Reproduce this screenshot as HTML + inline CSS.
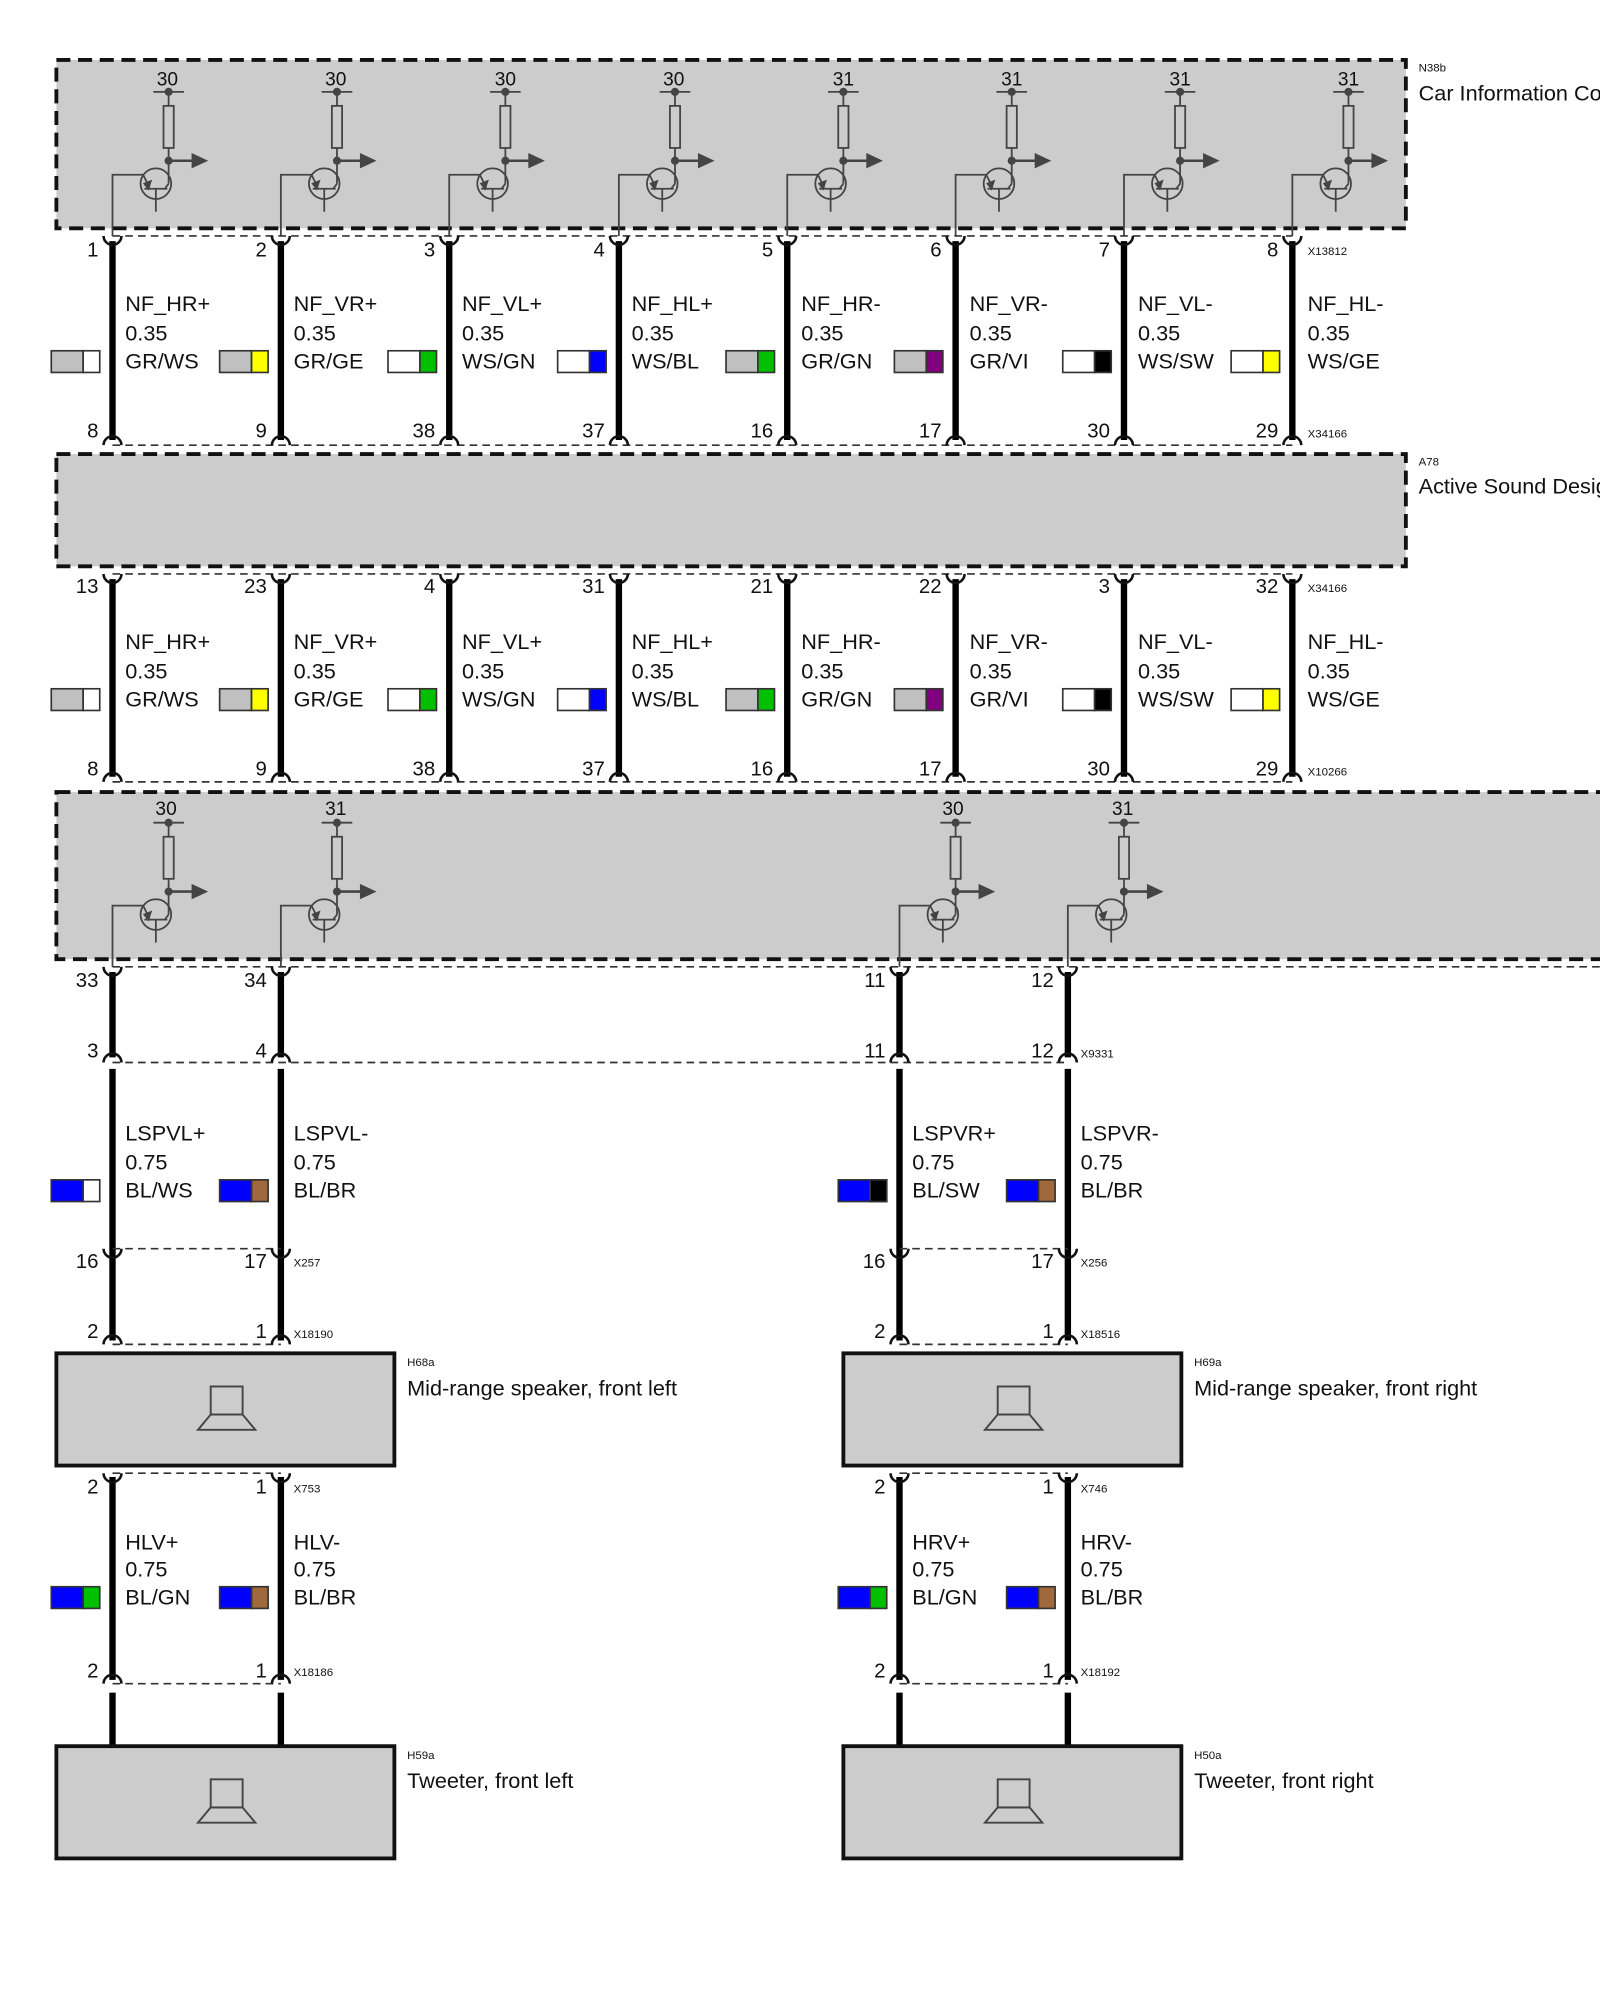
<!DOCTYPE html>
<html><head><meta charset="utf-8"><style>
html,body{margin:0;padding:0;background:#fff;}
svg{display:block;}
text{font-family:"Liberation Sans",sans-serif;fill:#111;}
.l{font-size:17px;}
.p{font-size:16px;text-anchor:end;}
.s{font-size:9px;}
.t{font-size:15px;text-anchor:middle;}
.big{font-size:17px;}
</style></head><body>
<svg width="1600" height="2000" viewBox="0 0 1254 1568" xmlns="http://www.w3.org/2000/svg">
<defs>
<g id="tr" fill="none" stroke="#444" stroke-width="1.4">
  <line x1="32" y1="0" x2="56" y2="0"/>
  <circle cx="44" cy="0" r="2.5" fill="#444"/>
  <line x1="44" y1="0" x2="44" y2="11"/>
  <rect x="40" y="11" width="8" height="33"/>
  <line x1="44" y1="44" x2="44" y2="72"/>
  <circle cx="44" cy="54" r="2.5" fill="#444"/>
  <line x1="44" y1="54" x2="64" y2="54" stroke-width="2"/>
  <polygon points="62,48 75,54 62,60" fill="#444" stroke="none"/>
  <circle cx="34" cy="72" r="12"/>
  <line x1="44" y1="72" x2="41" y2="76"/>
  <line x1="25" y1="76" x2="43" y2="76"/>
  <line x1="34" y1="76" x2="34" y2="94"/>
  <line x1="24" y1="65" x2="29" y2="75"/>
  <polygon points="28,76 30,70 25,72" fill="#444"/>
  <polyline points="0,113 0,65 24,65"/>
</g>
<path id="cu" d="M-7,0 A7,7 0 0 0 7,0" fill="none" stroke="#111" stroke-width="2"/>
<path id="cn" d="M-7,0 A7,7 0 0 1 7,0" fill="none" stroke="#111" stroke-width="2"/>
<g id="spk" fill="none" stroke="#444" stroke-width="1.5">
  <rect x="0" y="0" width="25" height="22"/>
  <polygon points="0,22 25,22 35,34 -10,34"/>
</g>
</defs>

<!-- Box 1 -->
<rect x="44" y="47" width="1058" height="132" fill="#cccccc" stroke="#111" stroke-width="3" stroke-dasharray="11,6"/>
<g>
<use href="#tr" x="88" y="72"/><use href="#tr" x="220" y="72"/><use href="#tr" x="352" y="72"/><use href="#tr" x="485" y="72"/>
<use href="#tr" x="617" y="72"/><use href="#tr" x="749" y="72"/><use href="#tr" x="881" y="72"/><use href="#tr" x="1013" y="72"/>
</g>
<text class="t" x="131" y="67">30</text><text class="t" x="263" y="67">30</text><text class="t" x="396" y="67">30</text><text class="t" x="528" y="67">30</text>
<text class="t" x="661" y="67">31</text><text class="t" x="793" y="67">31</text><text class="t" x="925" y="67">31</text><text class="t" x="1057" y="67">31</text>
<text class="s" x="1112" y="56">N38b</text><text class="big" x="1112" y="79">Car Information Computer</text>

<!-- Wire set 1 -->
<g transform="translate(0,185)">
<line x1="88" y1="0" x2="1013" y2="0" stroke="#333" stroke-width="1.3" stroke-dasharray="6,4"/>
<line x1="88" y1="164" x2="1013" y2="164" stroke="#333" stroke-width="1.3" stroke-dasharray="6,4"/>
<g stroke="#000" stroke-width="5">
<line x1="88" y1="4" x2="88" y2="160"/><line x1="220" y1="4" x2="220" y2="160"/><line x1="352" y1="4" x2="352" y2="160"/><line x1="485" y1="4" x2="485" y2="160"/>
<line x1="617" y1="4" x2="617" y2="160"/><line x1="749" y1="4" x2="749" y2="160"/><line x1="881" y1="4" x2="881" y2="160"/><line x1="1013" y1="4" x2="1013" y2="160"/>
</g>
<use href="#cu" x="88"/><use href="#cu" x="220"/><use href="#cu" x="352"/><use href="#cu" x="485"/><use href="#cu" x="617"/><use href="#cu" x="749"/><use href="#cu" x="881"/><use href="#cu" x="1013"/>
<use href="#cn" x="88" y="164"/><use href="#cn" x="220" y="164"/><use href="#cn" x="352" y="164"/><use href="#cn" x="485" y="164"/><use href="#cn" x="617" y="164"/><use href="#cn" x="749" y="164"/><use href="#cn" x="881" y="164"/><use href="#cn" x="1013" y="164"/>
<text class="p" x="77" y="16">1</text><text class="p" x="209" y="16">2</text><text class="p" x="341" y="16">3</text><text class="p" x="474" y="16">4</text><text class="p" x="606" y="16">5</text><text class="p" x="738" y="16">6</text><text class="p" x="870" y="16">7</text><text class="p" x="1002" y="16">8</text>
<text class="s" x="1025" y="15">X13812</text>
<text class="p" x="77" y="158">8</text><text class="p" x="209" y="158">9</text><text class="p" x="341" y="158">38</text><text class="p" x="474" y="158">37</text><text class="p" x="606" y="158">16</text><text class="p" x="738" y="158">17</text><text class="p" x="870" y="158">30</text><text class="p" x="1002" y="158">29</text>
<text class="s" x="1025" y="158">X34166</text>
<g class="l">
<text class="l" x="98" y="59">NF_HR+</text><text class="l" x="98" y="82">0.35</text><text class="l" x="98" y="104">GR/WS</text>
<text class="l" x="230" y="59">NF_VR+</text><text class="l" x="230" y="82">0.35</text><text class="l" x="230" y="104">GR/GE</text>
<text class="l" x="362" y="59">NF_VL+</text><text class="l" x="362" y="82">0.35</text><text class="l" x="362" y="104">WS/GN</text>
<text class="l" x="495" y="59">NF_HL+</text><text class="l" x="495" y="82">0.35</text><text class="l" x="495" y="104">WS/BL</text>
<text class="l" x="628" y="59">NF_HR-</text><text class="l" x="628" y="82">0.35</text><text class="l" x="628" y="104">GR/GN</text>
<text class="l" x="760" y="59">NF_VR-</text><text class="l" x="760" y="82">0.35</text><text class="l" x="760" y="104">GR/VI</text>
<text class="l" x="892" y="59">NF_VL-</text><text class="l" x="892" y="82">0.35</text><text class="l" x="892" y="104">WS/SW</text>
<text class="l" x="1025" y="59">NF_HL-</text><text class="l" x="1025" y="82">0.35</text><text class="l" x="1025" y="104">WS/GE</text>
</g>
<g stroke="#333" stroke-width="1.3">
<rect x="40" y="90" width="25" height="17" fill="#c0c0c0"/><rect x="65" y="90" width="13" height="17" fill="#fff"/>
<rect x="172" y="90" width="25" height="17" fill="#c0c0c0"/><rect x="197" y="90" width="13" height="17" fill="#ffff00"/>
<rect x="304" y="90" width="25" height="17" fill="#fff"/><rect x="329" y="90" width="13" height="17" fill="#00c000"/>
<rect x="437" y="90" width="25" height="17" fill="#fff"/><rect x="462" y="90" width="13" height="17" fill="#0000ff"/>
<rect x="569" y="90" width="25" height="17" fill="#c0c0c0"/><rect x="594" y="90" width="13" height="17" fill="#00c000"/>
<rect x="701" y="90" width="25" height="17" fill="#c0c0c0"/><rect x="726" y="90" width="13" height="17" fill="#800080"/>
<rect x="833" y="90" width="25" height="17" fill="#fff"/><rect x="858" y="90" width="13" height="17" fill="#000"/>
<rect x="965" y="90" width="25" height="17" fill="#fff"/><rect x="990" y="90" width="13" height="17" fill="#ffff00"/>
</g>
</g>

<!-- Box 2 -->
<rect x="44" y="356" width="1058" height="88" fill="#cccccc" stroke="#111" stroke-width="3" stroke-dasharray="11,6"/>
<text class="s" x="1112" y="365">A78</text><text class="big" x="1112" y="387">Active Sound Design</text>

<!-- Wire set 2 -->
<g transform="translate(0,450)">
<line x1="88" y1="0" x2="1013" y2="0" stroke="#333" stroke-width="1.3" stroke-dasharray="6,4"/>
<line x1="88" y1="163" x2="1013" y2="163" stroke="#333" stroke-width="1.3" stroke-dasharray="6,4"/>
<g stroke="#000" stroke-width="5">
<line x1="88" y1="4" x2="88" y2="159"/><line x1="220" y1="4" x2="220" y2="159"/><line x1="352" y1="4" x2="352" y2="159"/><line x1="485" y1="4" x2="485" y2="159"/>
<line x1="617" y1="4" x2="617" y2="159"/><line x1="749" y1="4" x2="749" y2="159"/><line x1="881" y1="4" x2="881" y2="159"/><line x1="1013" y1="4" x2="1013" y2="159"/>
</g>
<use href="#cu" x="88"/><use href="#cu" x="220"/><use href="#cu" x="352"/><use href="#cu" x="485"/><use href="#cu" x="617"/><use href="#cu" x="749"/><use href="#cu" x="881"/><use href="#cu" x="1013"/>
<use href="#cn" x="88" y="163"/><use href="#cn" x="220" y="163"/><use href="#cn" x="352" y="163"/><use href="#cn" x="485" y="163"/><use href="#cn" x="617" y="163"/><use href="#cn" x="749" y="163"/><use href="#cn" x="881" y="163"/><use href="#cn" x="1013" y="163"/>
<text class="p" x="77" y="15">13</text><text class="p" x="209" y="15">23</text><text class="p" x="341" y="15">4</text><text class="p" x="474" y="15">31</text><text class="p" x="606" y="15">21</text><text class="p" x="738" y="15">22</text><text class="p" x="870" y="15">3</text><text class="p" x="1002" y="15">32</text>
<text class="s" x="1025" y="14">X34166</text>
<text class="p" x="77" y="158">8</text><text class="p" x="209" y="158">9</text><text class="p" x="341" y="158">38</text><text class="p" x="474" y="158">37</text><text class="p" x="606" y="158">16</text><text class="p" x="738" y="158">17</text><text class="p" x="870" y="158">30</text><text class="p" x="1002" y="158">29</text>
<text class="s" x="1025" y="158">X10266</text>
<text class="l" x="98" y="59">NF_HR+</text><text class="l" x="98" y="82">0.35</text><text class="l" x="98" y="104">GR/WS</text>
<text class="l" x="230" y="59">NF_VR+</text><text class="l" x="230" y="82">0.35</text><text class="l" x="230" y="104">GR/GE</text>
<text class="l" x="362" y="59">NF_VL+</text><text class="l" x="362" y="82">0.35</text><text class="l" x="362" y="104">WS/GN</text>
<text class="l" x="495" y="59">NF_HL+</text><text class="l" x="495" y="82">0.35</text><text class="l" x="495" y="104">WS/BL</text>
<text class="l" x="628" y="59">NF_HR-</text><text class="l" x="628" y="82">0.35</text><text class="l" x="628" y="104">GR/GN</text>
<text class="l" x="760" y="59">NF_VR-</text><text class="l" x="760" y="82">0.35</text><text class="l" x="760" y="104">GR/VI</text>
<text class="l" x="892" y="59">NF_VL-</text><text class="l" x="892" y="82">0.35</text><text class="l" x="892" y="104">WS/SW</text>
<text class="l" x="1025" y="59">NF_HL-</text><text class="l" x="1025" y="82">0.35</text><text class="l" x="1025" y="104">WS/GE</text>
<g stroke="#333" stroke-width="1.3">
<rect x="40" y="90" width="25" height="17" fill="#c0c0c0"/><rect x="65" y="90" width="13" height="17" fill="#fff"/>
<rect x="172" y="90" width="25" height="17" fill="#c0c0c0"/><rect x="197" y="90" width="13" height="17" fill="#ffff00"/>
<rect x="304" y="90" width="25" height="17" fill="#fff"/><rect x="329" y="90" width="13" height="17" fill="#00c000"/>
<rect x="437" y="90" width="25" height="17" fill="#fff"/><rect x="462" y="90" width="13" height="17" fill="#0000ff"/>
<rect x="569" y="90" width="25" height="17" fill="#c0c0c0"/><rect x="594" y="90" width="13" height="17" fill="#00c000"/>
<rect x="701" y="90" width="25" height="17" fill="#c0c0c0"/><rect x="726" y="90" width="13" height="17" fill="#800080"/>
<rect x="833" y="90" width="25" height="17" fill="#fff"/><rect x="858" y="90" width="13" height="17" fill="#000"/>
<rect x="965" y="90" width="25" height="17" fill="#fff"/><rect x="990" y="90" width="13" height="17" fill="#ffff00"/>
</g>
</g>

<!-- Box 3 -->
<rect x="44" y="621" width="1230" height="131" fill="#cccccc" stroke="#111" stroke-width="3" stroke-dasharray="11,6"/>
<use href="#tr" x="88" y="645"/><use href="#tr" x="220" y="645"/><use href="#tr" x="705" y="645"/><use href="#tr" x="837" y="645"/>
<text class="t" x="130" y="639">30</text><text class="t" x="263" y="639">31</text><text class="t" x="747" y="639">30</text><text class="t" x="880" y="639">31</text>

<!-- Box3 lower connectors -->
<line x1="88" y1="758" x2="1254" y2="758" stroke="#333" stroke-width="1.3" stroke-dasharray="6,4"/>
<line x1="88" y1="833" x2="837" y2="833" stroke="#333" stroke-width="1.3" stroke-dasharray="6,4"/>
<g stroke="#000" stroke-width="5">
<line x1="88" y1="762" x2="88" y2="829"/><line x1="220" y1="762" x2="220" y2="829"/><line x1="705" y1="762" x2="705" y2="829"/><line x1="837" y1="762" x2="837" y2="829"/>
</g>
<use href="#cu" x="88" y="758"/><use href="#cu" x="220" y="758"/><use href="#cu" x="705" y="758"/><use href="#cu" x="837" y="758"/>
<use href="#cn" x="88" y="833"/><use href="#cn" x="220" y="833"/><use href="#cn" x="705" y="833"/><use href="#cn" x="837" y="833"/>
<text class="p" x="77" y="774">33</text><text class="p" x="209" y="774">34</text><text class="p" x="694" y="774">11</text><text class="p" x="826" y="774">12</text>
<text class="p" x="77" y="829">3</text><text class="p" x="209" y="829">4</text><text class="p" x="694" y="829">11</text><text class="p" x="826" y="829">12</text>
<text class="s" x="847" y="829">X9331</text>

<!-- Left and right speaker chains -->
<g id="chainL">
<g stroke="#000" stroke-width="5">
<line x1="88" y1="838" x2="88" y2="1051"/><line x1="220" y1="838" x2="220" y2="1051"/>
<line x1="88" y1="1158" x2="88" y2="1317"/><line x1="220" y1="1158" x2="220" y2="1317"/>
<line x1="88" y1="1327" x2="88" y2="1369"/><line x1="220" y1="1327" x2="220" y2="1369"/>
</g>
<line x1="88" y1="979" x2="220" y2="979" stroke="#333" stroke-width="1.3" stroke-dasharray="6,4"/>
<line x1="88" y1="1054" x2="220" y2="1054" stroke="#333" stroke-width="1.3" stroke-dasharray="6,4"/>
<line x1="88" y1="1155" x2="220" y2="1155" stroke="#333" stroke-width="1.3" stroke-dasharray="6,4"/>
<line x1="88" y1="1320" x2="220" y2="1320" stroke="#333" stroke-width="1.3" stroke-dasharray="6,4"/>
<use href="#cu" x="88" y="979"/><use href="#cu" x="220" y="979"/>
<use href="#cn" x="88" y="1054"/><use href="#cn" x="220" y="1054"/>
<use href="#cu" x="88" y="1155"/><use href="#cu" x="220" y="1155"/>
<use href="#cn" x="88" y="1320"/><use href="#cn" x="220" y="1320"/>
<rect x="44" y="1061" width="265" height="88" fill="#cccccc" stroke="#111" stroke-width="3"/>
<use href="#spk" x="165" y="1087"/>
<rect x="44" y="1369" width="265" height="88" fill="#cccccc" stroke="#111" stroke-width="3"/>
<use href="#spk" x="165" y="1395"/>
<text class="p" x="77" y="994">16</text><text class="p" x="209" y="994">17</text>
<text class="p" x="77" y="1049">2</text><text class="p" x="209" y="1049">1</text>
<text class="p" x="77" y="1171">2</text><text class="p" x="209" y="1171">1</text>
<text class="p" x="77" y="1315">2</text><text class="p" x="209" y="1315">1</text>
<g stroke="#333" stroke-width="1.3">
<rect x="40" y="925" width="25" height="17" fill="#0000ff"/><rect x="65" y="925" width="13" height="17" fill="#fff"/>
<rect x="172" y="925" width="25" height="17" fill="#0000ff"/><rect x="197" y="925" width="13" height="17" fill="#a0693c"/>
<rect x="40" y="1244" width="25" height="17" fill="#0000ff"/><rect x="65" y="1244" width="13" height="17" fill="#00c000"/>
<rect x="172" y="1244" width="25" height="17" fill="#0000ff"/><rect x="197" y="1244" width="13" height="17" fill="#a0693c"/>
</g>
</g>
<use href="#chainL" x="617"/>

<!-- Left texts -->
<text class="l" x="98" y="894">LSPVL+</text><text class="l" x="98" y="917">0.75</text><text class="l" x="98" y="939">BL/WS</text>
<text class="l" x="230" y="894">LSPVL-</text><text class="l" x="230" y="917">0.75</text><text class="l" x="230" y="939">BL/BR</text>
<text class="l" x="98" y="1215">HLV+</text><text class="l" x="98" y="1236">0.75</text><text class="l" x="98" y="1258">BL/GN</text>
<text class="l" x="230" y="1215">HLV-</text><text class="l" x="230" y="1236">0.75</text><text class="l" x="230" y="1258">BL/BR</text>
<text class="s" x="230" y="993">X257</text><text class="s" x="230" y="1049">X18190</text>
<text class="s" x="230" y="1170">X753</text><text class="s" x="230" y="1314">X18186</text>
<text class="s" x="319" y="1071">H68a</text><text class="big" x="319" y="1094">Mid-range speaker, front left</text>
<text class="s" x="319" y="1379">H59a</text><text class="big" x="319" y="1402">Tweeter, front left</text>

<!-- Right texts -->
<text class="l" x="715" y="894">LSPVR+</text><text class="l" x="715" y="917">0.75</text><text class="l" x="715" y="939">BL/SW</text>
<text class="l" x="847" y="894">LSPVR-</text><text class="l" x="847" y="917">0.75</text><text class="l" x="847" y="939">BL/BR</text>
<text class="l" x="715" y="1215">HRV+</text><text class="l" x="715" y="1236">0.75</text><text class="l" x="715" y="1258">BL/GN</text>
<text class="l" x="847" y="1215">HRV-</text><text class="l" x="847" y="1236">0.75</text><text class="l" x="847" y="1258">BL/BR</text>
<rect x="682" y="925" width="13" height="17" fill="#000" stroke="#333" stroke-width="1.3"/>
<text class="s" x="847" y="993">X256</text><text class="s" x="847" y="1049">X18516</text>
<text class="s" x="847" y="1170">X746</text><text class="s" x="847" y="1314">X18192</text>
<text class="s" x="936" y="1071">H69a</text><text class="big" x="936" y="1094">Mid-range speaker, front right</text>
<text class="s" x="936" y="1379">H50a</text><text class="big" x="936" y="1402">Tweeter, front right</text>
</svg>
</body></html>
